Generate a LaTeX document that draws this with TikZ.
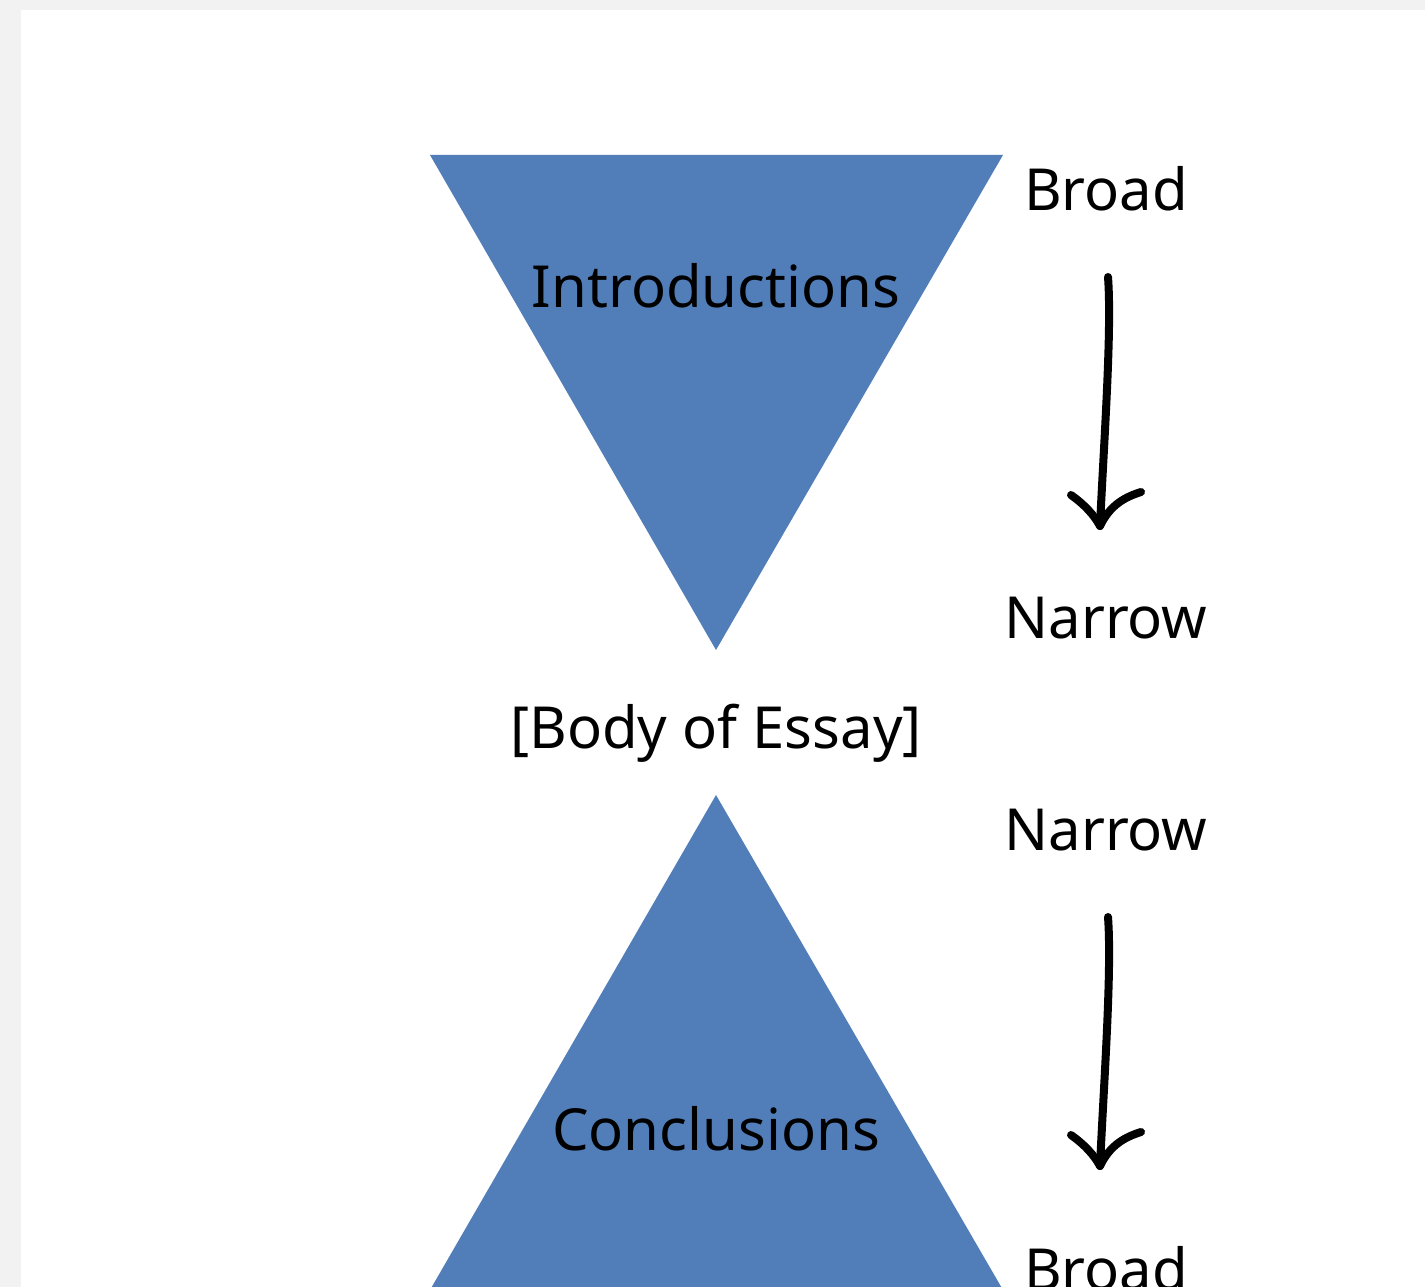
\documentclass[tikz,border=0pt]{standalone}
\usepackage{fontspec}
\setmainfont{Noto Sans}
\definecolor{tri}{RGB}{81,126,185}
\definecolor{pagebg}{RGB}{242,242,242}
\tikzset{
  lbl/.style={anchor=base, inner sep=0pt, font=\fontsize{58}{60}\selectfont, text=black},
  hand/.style={line width=8pt, line cap=round, line join=round, black},
  trifill/.style={fill=tri, draw=none}
}
\begin{document}
\begin{tikzpicture}[x=1pt,y=-1pt]
\useasboundingbox (0,0) rectangle (1425,1287);
\fill[pagebg] (0,0) rectangle (1425,1287);
\fill[white] (21,10) rectangle (1425,1287);
% triangles
\fill[trifill] (430,155) -- (1003,155) -- (716,650) -- cycle;
\fill[trifill] (716,795) -- (1003,1290) -- (430,1290) -- cycle;
% labels
\node[lbl] (intro) at (716,307) {Introductions};
\node[lbl] (body) at (716,748) {[Body of Essay]};
\node[lbl] (concl) at (716,1150) {Conclusions};
\node[lbl] (broad1) at (1106,210) {Broad};
\node[lbl] (narrow1) at (1106,638) {Narrow};
\node[lbl] (narrow2) at (1106,850) {Narrow};
\node[lbl] (broad2) at (1106,1290) {Broad};
% arrows
\coordinate (a1s) at (1108,277);
\coordinate (a1e) at (1100,526);
\coordinate (a1l) at (1071,495);
\coordinate (a1r) at (1141,492);
\draw[hand] (a1s) .. controls (1112,330) and (1104,440) .. (a1e);
\draw[hand] (a1l) .. controls (1085,505) and (1094,515) .. (a1e) .. controls (1110,505) and (1125,497) .. (a1r);
\coordinate (a2s) at (1108,917);
\coordinate (a2e) at (1100,1166);
\coordinate (a2l) at (1071,1135);
\coordinate (a2r) at (1141,1132);
\draw[hand] (a2s) .. controls (1112,970) and (1104,1080) .. (a2e);
\draw[hand] (a2l) .. controls (1085,1145) and (1094,1155) .. (a2e) .. controls (1110,1145) and (1125,1137) .. (a2r);
\end{tikzpicture}
\end{document}
